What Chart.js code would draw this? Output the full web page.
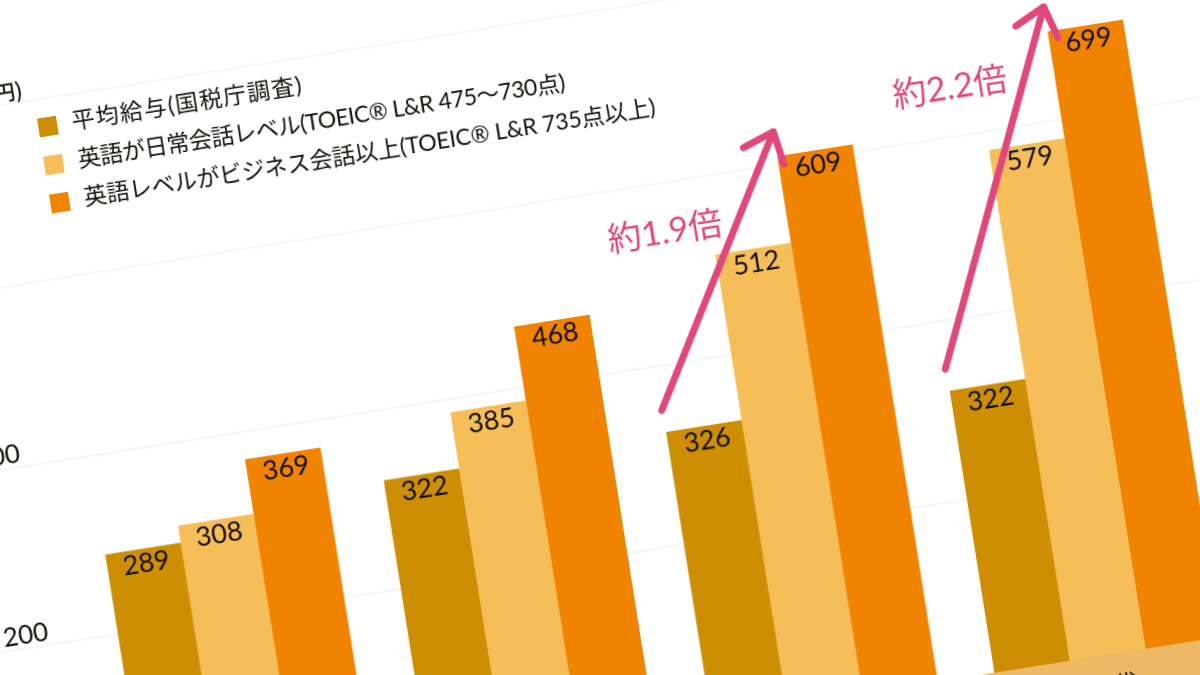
<!DOCTYPE html>
<html lang="ja">
<head>
<meta charset="utf-8">
<title>英語レベルと平均給与</title>
<script src="https://cdn.jsdelivr.net/npm/chart.js@4"></script>
<style>
html,body{margin:0;padding:0;background:#fff;overflow:hidden;width:1200px;height:675px}
#wrap{position:absolute;left:0;top:0;width:1200px;height:675px;overflow:hidden}
#c{position:absolute;left:0;top:0;width:1400px;height:920px;transform-origin:0 0;transform:rotate(-9deg) translate(-150px,-20px)}
</style>
</head>
<body>
<div id="wrap"><canvas id="c" width="1400" height="920"></canvas></div>
<script>
const categories = ["20代", "30代", "40代", "50代"];
const averagePay = [289, 322, 326, 322];
const dailyEnglish = [308, 385, 512, 579];
const businessEnglish = [369, 468, 609, 699];
const seriesNames = ["平均給与(国税庁調査)", "英語が日常会話レベル(TOEIC® L&R 475〜730点)", "英語レベルがビジネス会話以上(TOEIC® L&R 735点以上)"];
const seriesColors = ["#CE8E04", "#F6BE58", "#F08300"];
const legendTracking = ["1.3px", "-0.5px", "-0.15px"];
const yTicks = [0, 200, 400, 600, 800];
const yUnit = "(万円)";
const arrowGroups = [2, 3];
const arrowTexts = ["約1.9倍", "約2.2倍"];
const arrowTextValues = [545, 654];
const arrowTextShift = [-84.5, -67];

const FONT = 'Lato, "Noto Sans CJK JP", sans-serif';
const JP = '"Noto Sans CJK JP", sans-serif';
const PINK = "#E0477C", INK = "#14110d", GRID = "rgba(226,240,245,0.4)";

const overlay = {
  id: "overlay",
  afterDatasetsDraw(chart) {
    const ctx = chart.ctx, y = chart.scales.y, x = chart.scales.x, area = chart.chartArea;
    ctx.save();
    // category band
    ctx.fillStyle = "#EDB964";
    ctx.fillRect(0, area.bottom - 4.5, chart.width, 90);
    // value labels
    ctx.fillStyle = INK;
    ctx.font = "27px " + FONT;
    ctx.textAlign = "center";
    ctx.textBaseline = "middle";
    chart.data.datasets.forEach((ds, i) => {
      chart.getDatasetMeta(i).data.forEach((bar, j) => {
        ctx.fillText(String(ds.data[j]), bar.x + 1, bar.y + 15);
      });
    });
    // unit
    ctx.textAlign = "right";
    ctx.font = "500 21px " + JP;
    ctx.fillText(yUnit, 158, 112);
    // legend
    ctx.textAlign = "left";
    ctx.font = "23px " + FONT;
    seriesNames.forEach((name, i) => {
      const cy = 152.5 + i * 38.5;
      ctx.fillStyle = seriesColors[i];
      ctx.fillRect(168, cy - 9.5, 19, 19);
      ctx.fillStyle = INK;
      ctx.letterSpacing = legendTracking[i];
      ctx.fillText(name, 202, cy - 1);
    });
    ctx.letterSpacing = "0px";
    // arrows
    arrowGroups.forEach((g, k) => {
      const a = chart.getDatasetMeta(0).data[g], b = chart.getDatasetMeta(2).data[g];
      const x0 = a.x - a.width / 2 - 1, y0 = a.y - 22, x1 = b.x - b.width / 2, y1 = b.y - 25;
      const ang = Math.atan2(y0 - y1, x0 - x1), L = 34, S = 40 * Math.PI / 180;
      ctx.strokeStyle = PINK;
      ctx.lineWidth = 7;
      ctx.lineCap = "round";
      ctx.lineJoin = "round";
      ctx.beginPath();
      ctx.moveTo(x0, y0);
      ctx.lineTo(x1, y1);
      ctx.moveTo(x1 + L * Math.cos(ang - S), y1 + L * Math.sin(ang - S));
      ctx.lineTo(x1, y1);
      ctx.lineTo(x1 + L * Math.cos(ang + S), y1 + L * Math.sin(ang + S));
      ctx.stroke();
      ctx.fillStyle = PINK;
      ctx.font = "34px " + FONT;
      ctx.textAlign = "center";
      ctx.fillText(arrowTexts[k], x.getPixelForValue(g) + arrowTextShift[k], y.getPixelForValue(arrowTextValues[k]));
    });
    ctx.restore();
  }
};

new Chart(document.getElementById("c"), {
  type: "bar",
  plugins: [overlay],
  data: {
    labels: categories,
    datasets: [averagePay, dailyEnglish, businessEnglish].map((d, i) => ({
      label: seriesNames[i], data: d, backgroundColor: seriesColors[i], borderWidth: 0,
      barPercentage: 1, categoryPercentage: 0.8
    }))
  },
  options: {
    responsive: false, animation: false, devicePixelRatio: 2,
    layout: { padding: { left: -1, right: 0, top: 124, bottom: 0 } },
    plugins: { legend: { display: false }, tooltip: { enabled: false } },
    scales: {
      x: {
        grid: { display: false }, border: { display: false },
        afterFit: s => { s.height = 75.5; },
        ticks: { color: INK, font: { size: 24, family: JP }, padding: 4, z: 1, maxRotation: 0 }
      },
      y: {
        min: 0, max: 800,
        afterFit: s => { s.width = 139.6; },
        afterBuildTicks: s => { s.ticks = yTicks.map(v => ({ value: v })); },
        border: { display: false },
        grid: { color: GRID, tickColor: GRID, lineWidth: 3, tickLength: 140 },
        ticks: { color: INK, font: { size: 26, family: FONT }, padding: -100, labelOffset: -13,
          callback: v => (v === 0 || v === 800) ? "" : String(v) }
      },
      y2: {
        position: "right", min: 0, max: 800,
        afterFit: s => { s.width = 115.2; },
        afterBuildTicks: s => { s.ticks = yTicks.map(v => ({ value: v })); },
        border: { display: false },
        grid: { drawOnChartArea: false, tickColor: GRID, lineWidth: 3, tickLength: 116 },
        ticks: { display: false }
      }
    }
  }
});
</script>
</body>
</html>
